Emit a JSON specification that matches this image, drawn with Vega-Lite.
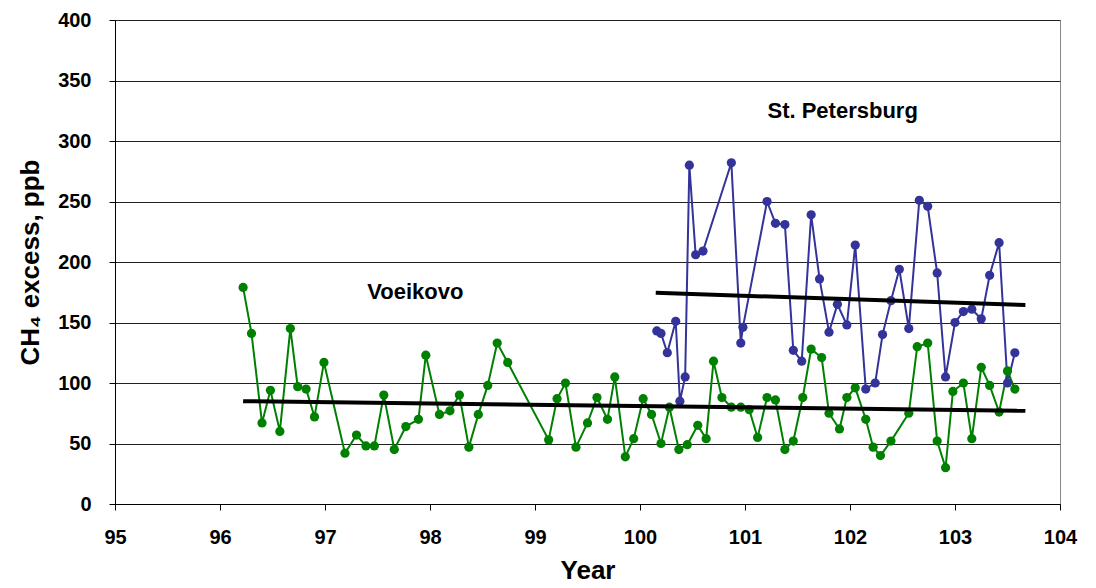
{
  "$schema": "https://vega.github.io/schema/vega-lite/v6.json",
  "width": 945,
  "height": 484,
  "autosize": "none",
  "padding": {"left": 115, "top": 20, "right": 36, "bottom": 84},
  "background": "white",
  "config": {
    "font": "Liberation Sans",
    "view": {"stroke": "#888", "strokeWidth": 1},
    "axis": {
      "labelFont": "Liberation Sans", "labelFontWeight": "bold", "labelFontSize": 20, "labelColor": "#000",
      "titleFont": "Liberation Sans", "titleFontWeight": "bold", "titleFontSize": 26, "titleColor": "#000",
      "domainColor": "#000", "tickColor": "#000", "tickSize": 6
    }
  },
  "datasets": {
    "obs": [
      {"series": "Voeikovo", "year": 96.22, "ch4": 179},
      {"series": "Voeikovo", "year": 96.30, "ch4": 141},
      {"series": "Voeikovo", "year": 96.40, "ch4": 67},
      {"series": "Voeikovo", "year": 96.48, "ch4": 94},
      {"series": "Voeikovo", "year": 96.57, "ch4": 60},
      {"series": "Voeikovo", "year": 96.67, "ch4": 145},
      {"series": "Voeikovo", "year": 96.74, "ch4": 97},
      {"series": "Voeikovo", "year": 96.82, "ch4": 95},
      {"series": "Voeikovo", "year": 96.90, "ch4": 72},
      {"series": "Voeikovo", "year": 96.99, "ch4": 117},
      {"series": "Voeikovo", "year": 97.19, "ch4": 42},
      {"series": "Voeikovo", "year": 97.30, "ch4": 57},
      {"series": "Voeikovo", "year": 97.39, "ch4": 48},
      {"series": "Voeikovo", "year": 97.47, "ch4": 48},
      {"series": "Voeikovo", "year": 97.56, "ch4": 90},
      {"series": "Voeikovo", "year": 97.66, "ch4": 45},
      {"series": "Voeikovo", "year": 97.77, "ch4": 64},
      {"series": "Voeikovo", "year": 97.89, "ch4": 70},
      {"series": "Voeikovo", "year": 97.96, "ch4": 123},
      {"series": "Voeikovo", "year": 98.09, "ch4": 74},
      {"series": "Voeikovo", "year": 98.19, "ch4": 77},
      {"series": "Voeikovo", "year": 98.28, "ch4": 90},
      {"series": "Voeikovo", "year": 98.37, "ch4": 47},
      {"series": "Voeikovo", "year": 98.46, "ch4": 74},
      {"series": "Voeikovo", "year": 98.55, "ch4": 98},
      {"series": "Voeikovo", "year": 98.64, "ch4": 133},
      {"series": "Voeikovo", "year": 98.74, "ch4": 117},
      {"series": "Voeikovo", "year": 99.13, "ch4": 53},
      {"series": "Voeikovo", "year": 99.21, "ch4": 87},
      {"series": "Voeikovo", "year": 99.29, "ch4": 100},
      {"series": "Voeikovo", "year": 99.39, "ch4": 47},
      {"series": "Voeikovo", "year": 99.50, "ch4": 67},
      {"series": "Voeikovo", "year": 99.59, "ch4": 88},
      {"series": "Voeikovo", "year": 99.69, "ch4": 70},
      {"series": "Voeikovo", "year": 99.76, "ch4": 105},
      {"series": "Voeikovo", "year": 99.86, "ch4": 39},
      {"series": "Voeikovo", "year": 99.94, "ch4": 54},
      {"series": "Voeikovo", "year": 100.03, "ch4": 87},
      {"series": "Voeikovo", "year": 100.11, "ch4": 74},
      {"series": "Voeikovo", "year": 100.20, "ch4": 50},
      {"series": "Voeikovo", "year": 100.28, "ch4": 80},
      {"series": "Voeikovo", "year": 100.37, "ch4": 45},
      {"series": "Voeikovo", "year": 100.45, "ch4": 49},
      {"series": "Voeikovo", "year": 100.55, "ch4": 65},
      {"series": "Voeikovo", "year": 100.63, "ch4": 54},
      {"series": "Voeikovo", "year": 100.70, "ch4": 118},
      {"series": "Voeikovo", "year": 100.78, "ch4": 88},
      {"series": "Voeikovo", "year": 100.87, "ch4": 80},
      {"series": "Voeikovo", "year": 100.96, "ch4": 80},
      {"series": "Voeikovo", "year": 101.04, "ch4": 78},
      {"series": "Voeikovo", "year": 101.12, "ch4": 55},
      {"series": "Voeikovo", "year": 101.21, "ch4": 88},
      {"series": "Voeikovo", "year": 101.29, "ch4": 86},
      {"series": "Voeikovo", "year": 101.38, "ch4": 45},
      {"series": "Voeikovo", "year": 101.46, "ch4": 52},
      {"series": "Voeikovo", "year": 101.55, "ch4": 88},
      {"series": "Voeikovo", "year": 101.63, "ch4": 128},
      {"series": "Voeikovo", "year": 101.73, "ch4": 121},
      {"series": "Voeikovo", "year": 101.80, "ch4": 75},
      {"series": "Voeikovo", "year": 101.90, "ch4": 62},
      {"series": "Voeikovo", "year": 101.97, "ch4": 88},
      {"series": "Voeikovo", "year": 102.05, "ch4": 96},
      {"series": "Voeikovo", "year": 102.15, "ch4": 70},
      {"series": "Voeikovo", "year": 102.22, "ch4": 47},
      {"series": "Voeikovo", "year": 102.29, "ch4": 40},
      {"series": "Voeikovo", "year": 102.39, "ch4": 52},
      {"series": "Voeikovo", "year": 102.56, "ch4": 75},
      {"series": "Voeikovo", "year": 102.64, "ch4": 130},
      {"series": "Voeikovo", "year": 102.74, "ch4": 133},
      {"series": "Voeikovo", "year": 102.83, "ch4": 52},
      {"series": "Voeikovo", "year": 102.91, "ch4": 30},
      {"series": "Voeikovo", "year": 102.98, "ch4": 93},
      {"series": "Voeikovo", "year": 103.08, "ch4": 100},
      {"series": "Voeikovo", "year": 103.16, "ch4": 54},
      {"series": "Voeikovo", "year": 103.25, "ch4": 113},
      {"series": "Voeikovo", "year": 103.33, "ch4": 98},
      {"series": "Voeikovo", "year": 103.42, "ch4": 76},
      {"series": "Voeikovo", "year": 103.50, "ch4": 110},
      {"series": "Voeikovo", "year": 103.57, "ch4": 95},
      {"series": "St. Petersburg", "year": 100.16, "ch4": 143},
      {"series": "St. Petersburg", "year": 100.20, "ch4": 141},
      {"series": "St. Petersburg", "year": 100.26, "ch4": 125},
      {"series": "St. Petersburg", "year": 100.34, "ch4": 151},
      {"series": "St. Petersburg", "year": 100.38, "ch4": 85},
      {"series": "St. Petersburg", "year": 100.43, "ch4": 105},
      {"series": "St. Petersburg", "year": 100.47, "ch4": 280},
      {"series": "St. Petersburg", "year": 100.53, "ch4": 206},
      {"series": "St. Petersburg", "year": 100.60, "ch4": 209},
      {"series": "St. Petersburg", "year": 100.87, "ch4": 282},
      {"series": "St. Petersburg", "year": 100.96, "ch4": 133},
      {"series": "St. Petersburg", "year": 100.98, "ch4": 146},
      {"series": "St. Petersburg", "year": 101.21, "ch4": 250},
      {"series": "St. Petersburg", "year": 101.29, "ch4": 232},
      {"series": "St. Petersburg", "year": 101.38, "ch4": 231},
      {"series": "St. Petersburg", "year": 101.46, "ch4": 127},
      {"series": "St. Petersburg", "year": 101.54, "ch4": 118},
      {"series": "St. Petersburg", "year": 101.63, "ch4": 239},
      {"series": "St. Petersburg", "year": 101.71, "ch4": 186},
      {"series": "St. Petersburg", "year": 101.80, "ch4": 142},
      {"series": "St. Petersburg", "year": 101.88, "ch4": 165},
      {"series": "St. Petersburg", "year": 101.97, "ch4": 148},
      {"series": "St. Petersburg", "year": 102.05, "ch4": 214},
      {"series": "St. Petersburg", "year": 102.15, "ch4": 95},
      {"series": "St. Petersburg", "year": 102.24, "ch4": 100},
      {"series": "St. Petersburg", "year": 102.31, "ch4": 140},
      {"series": "St. Petersburg", "year": 102.39, "ch4": 168},
      {"series": "St. Petersburg", "year": 102.47, "ch4": 194},
      {"series": "St. Petersburg", "year": 102.56, "ch4": 145},
      {"series": "St. Petersburg", "year": 102.66, "ch4": 251},
      {"series": "St. Petersburg", "year": 102.74, "ch4": 246},
      {"series": "St. Petersburg", "year": 102.83, "ch4": 191},
      {"series": "St. Petersburg", "year": 102.91, "ch4": 105},
      {"series": "St. Petersburg", "year": 103.00, "ch4": 150},
      {"series": "St. Petersburg", "year": 103.08, "ch4": 159},
      {"series": "St. Petersburg", "year": 103.16, "ch4": 161},
      {"series": "St. Petersburg", "year": 103.25, "ch4": 153},
      {"series": "St. Petersburg", "year": 103.33, "ch4": 189},
      {"series": "St. Petersburg", "year": 103.42, "ch4": 216},
      {"series": "St. Petersburg", "year": 103.50, "ch4": 100},
      {"series": "St. Petersburg", "year": 103.57, "ch4": 125}
    ],
    "trend": [
      {"series": "Voeikovo", "year": 96.22, "ch4": 85},
      {"series": "Voeikovo", "year": 103.67, "ch4": 77},
      {"series": "St. Petersburg", "year": 100.15, "ch4": 174.5},
      {"series": "St. Petersburg", "year": 103.67, "ch4": 164.5}
    ],
    "labels": [
      {"year": 97.86, "ch4": 175, "text": "Voeikovo"},
      {"year": 101.93, "ch4": 325, "text": "St. Petersburg"}
    ]
  },
  "layer": [
    {
      "data": {"name": "obs"},
      "mark": {"type": "line", "strokeWidth": 2, "point": {"filled": true, "size": 85, "opacity": 1}},
      "encoding": {
        "x": {
          "field": "year", "type": "quantitative",
          "scale": {"domain": [95, 104], "nice": false, "zero": false},
          "axis": {"title": "Year", "format": "d", "values": [95, 96, 97, 98, 99, 100, 101, 102, 103, 104], "grid": false, "labelPadding": 17, "titlePadding": 10, "labelFlush": false}
        },
        "y": {
          "field": "ch4", "type": "quantitative",
          "scale": {"domain": [0, 400], "nice": false},
          "axis": {"title": "CH₄ excess,  ppb", "values": [0, 50, 100, 150, 200, 250, 300, 350, 400], "grid": true, "gridColor": "#222", "gridWidth": 1, "labelPadding": 18, "titlePadding": 14}
        },
        "color": {
          "field": "series", "type": "nominal",
          "scale": {"domain": ["Voeikovo", "St. Petersburg"], "range": ["#008000", "#333399"]},
          "legend": null
        },
        "detail": {"field": "series"}
      }
    },
    {
      "data": {"name": "trend"},
      "mark": {"type": "line", "color": "#000", "strokeWidth": 4},
      "encoding": {
        "x": {"field": "year", "type": "quantitative"},
        "y": {"field": "ch4", "type": "quantitative"},
        "detail": {"field": "series"}
      }
    },
    {
      "data": {"name": "labels"},
      "mark": {"type": "text", "font": "Liberation Sans", "fontWeight": "bold", "fontSize": 22, "color": "#000", "align": "center", "baseline": "middle"},
      "encoding": {
        "x": {"field": "year", "type": "quantitative"},
        "y": {"field": "ch4", "type": "quantitative"},
        "text": {"field": "text"}
      }
    }
  ]
}
